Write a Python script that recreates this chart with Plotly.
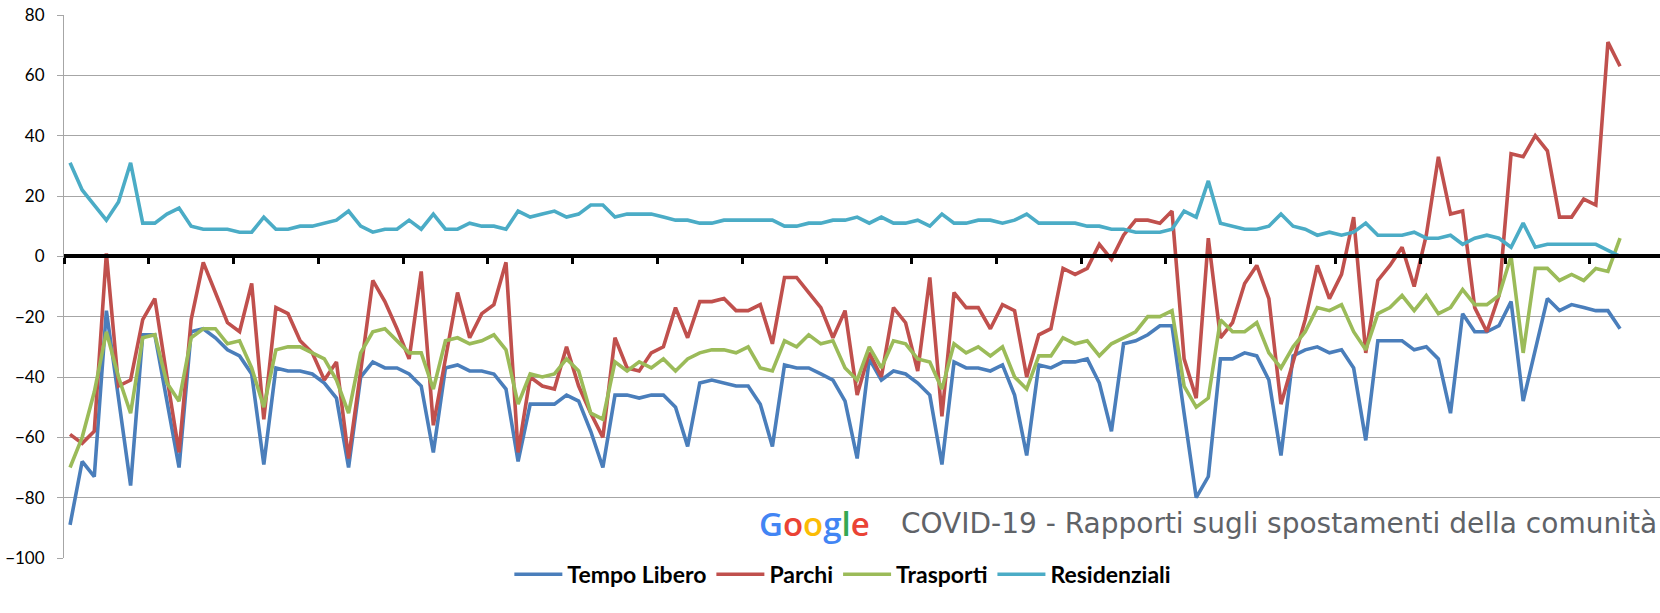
import plotly.graph_objects as go

# Google mobility, Italia - variazione % rispetto al valore di base (un punto al giorno)
tempo_libero = [
    -89, -68, -73, -18, -47, -76, -26, -26, -48, -70,
    -25, -24, -27, -31, -33, -39, -69, -37, -38, -38,
    -39, -42, -47, -70, -40, -35, -37, -37, -39, -43,
    -65, -37, -36, -38, -38, -39, -44, -68, -49, -49,
    -49, -46, -48, -58, -70, -46, -46, -47, -46, -46,
    -50, -63, -42, -41, -42, -43, -43, -49, -63, -36,
    -37, -37, -39, -41, -48, -67, -34, -41, -38, -39,
    -42, -46, -69, -35, -37, -37, -38, -36, -46, -66,
    -36, -37, -35, -35, -34, -42, -58, -29, -28, -26,
    -23, -23, -52, -80, -73, -34, -34, -32, -33, -41,
    -66, -33, -31, -30, -32, -31, -37, -61, -28, -28,
    -28, -31, -30, -34, -52, -19, -25, -25, -23, -15,
    -48, -31, -14, -18, -16, -17, -18, -18, -24,
]
parchi = [
    -59, -62, -58, 1, -43, -41, -21, -14, -40, -65,
    -21, -2, -12, -22, -25, -9, -54, -17, -19, -28,
    -32, -41, -35, -67, -38, -8, -15, -24, -34, -5,
    -56, -34, -12, -27, -19, -16, -2, -65, -40, -43,
    -44, -30, -43, -52, -60, -27, -37, -38, -32, -30,
    -17, -27, -15, -15, -14, -18, -18, -16, -29, -7,
    -7, -12, -17, -27, -18, -46, -32, -40, -17, -22,
    -38, -7, -53, -12, -17, -17, -24, -16, -18, -40,
    -26, -24, -4, -6, -4, 4, -1, 7, 12, 12,
    11, 15, -34, -47, 6, -27, -22, -9, -3, -14,
    -49, -35, -21, -3, -14, -6, 13, -32, -8, -3,
    3, -10, 7, 33, 14, 15, -17, -25, -13, 34,
    33, 40, 35, 13, 13, 19, 17, 71, 63,
]
trasporti = [
    -70, -60, -45, -25, -40, -52, -27, -26, -42, -48,
    -27, -24, -24, -29, -28, -37, -50, -31, -30, -30,
    -32, -34, -41, -52, -32, -25, -24, -28, -32, -32,
    -44, -28, -27, -29, -28, -26, -31, -49, -39, -40,
    -39, -34, -38, -52, -54, -35, -38, -35, -37, -34,
    -38, -34, -32, -31, -31, -32, -30, -37, -38, -28,
    -30, -26, -29, -28, -37, -41, -30, -37, -28, -29,
    -34, -35, -44, -29, -32, -30, -33, -30, -40, -44,
    -33, -33, -27, -29, -28, -33, -29, -27, -25, -20,
    -20, -18, -43, -50, -47, -21, -25, -25, -22, -32,
    -37, -30, -25, -17, -18, -16, -25, -31, -19, -17,
    -13, -18, -13, -19, -17, -11, -16, -16, -13, 0,
    -32, -4, -4, -8, -6, -8, -4, -5, 6,
]
residenziali = [
    31, 22, 17, 12, 18, 31, 11, 11, 14, 16,
    10, 9, 9, 9, 8, 8, 13, 9, 9, 10,
    10, 11, 12, 15, 10, 8, 9, 9, 12, 9,
    14, 9, 9, 11, 10, 10, 9, 15, 13, 14,
    15, 13, 14, 17, 17, 13, 14, 14, 14, 13,
    12, 12, 11, 11, 12, 12, 12, 12, 12, 10,
    10, 11, 11, 12, 12, 13, 11, 13, 11, 11,
    12, 10, 14, 11, 11, 12, 12, 11, 12, 14,
    11, 11, 11, 11, 10, 10, 9, 9, 8, 8,
    8, 9, 15, 13, 25, 11, 10, 9, 9, 10,
    14, 10, 9, 7, 8, 7, 8, 11, 7, 7,
    7, 8, 6, 6, 7, 4, 6, 7, 6, 3,
    11, 3, 4, 4, 4, 4, 4, 2, 0,
]
giorni = list(range(len(tempo_libero)))

serie = [
    ("Tempo Libero", tempo_libero, "#4a7ebb"),
    ("Parchi", parchi, "#c0504d"),
    ("Trasporti", trasporti, "#9bbb59"),
    ("Residenziali", residenziali, "#4bacc6"),
]

fig = go.Figure()
for nome, valori, colore in serie:
    fig.add_trace(go.Scatter(
        x=giorni, y=valori, name="<b>" + nome + "</b>", mode="lines",
        line=dict(color=colore, width=3.6)))

# x axis drawn as the thick black line at zero, with weekly ticks
fig.update_xaxes(
    range=[-0.5, 131.3], anchor="free", position=100 / 180, automargin=False,
    showline=True, linecolor="black", linewidth=4,
    ticks="outside", ticklen=6, tickwidth=3, tickcolor="black",
    tickmode="linear", tick0=-0.5, dtick=7,
    showticklabels=False, showgrid=False, zeroline=False)

fig.update_yaxes(
    range=[-100, 80], dtick=20, automargin=False,
    showline=True, linecolor="#a6a6a6", linewidth=1,
    ticks="outside", ticklen=6, tickcolor="#a6a6a6", ticklabelstandoff=9,
    gridcolor="#a6a6a6", gridwidth=1, zeroline=False,
    tickfont=dict(family="Lato", size=17, color="black"))

# white box with the Google credit, pasted over the chart
fig.add_shape(type="rect", xref="paper", yref="y", x0=0.423, x1=1.0, y0=-96, y1=-80.4,
              fillcolor="white", line=dict(width=0), layer="above")
fig.add_annotation(
    xref="paper", yref="y", x=0.434, y=-88.5, xanchor="left", yanchor="middle", showarrow=False,
    text=("<span style='color:#4285f4'>G</span><span style='color:#ea4335'>o</span>"
          "<span style='color:#fbbc05'>o</span><span style='color:#4285f4'>g</span>"
          "<span style='color:#34a853'>l</span><span style='color:#ea4335'>e</span>"),
    font=dict(family="Open Sans", size=33, weight=600))
fig.add_annotation(
    xref="paper", yref="y", x=0.523, y=-88.5, xanchor="left", yanchor="middle", showarrow=False,
    text="COVID-19 - Rapporti sugli spostamenti della comunità",
    font=dict(family="DejaVu Sans", size=28, color="#5f6368"))

fig.update_layout(
    width=1660, height=613,
    margin=dict(l=64, r=0, t=15, b=55),
    plot_bgcolor="white", paper_bgcolor="white",
    showlegend=True,
    legend=dict(orientation="h", x=0.488, xanchor="center", y=-0.03, yanchor="middle",
                itemwidth=48,
                font=dict(family="Lato", size=23, color="black")),
)

# drop the browser's default 8px body margin so the figure sits at the page corner
fig.write_html("out.html", config={"displayModeBar": False},
               post_script="document.body.style.margin='0';")
